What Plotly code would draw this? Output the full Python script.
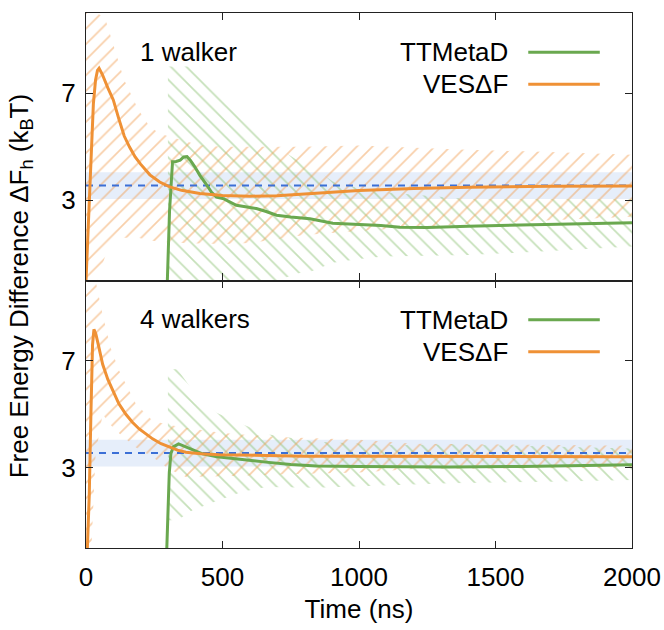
import plotly.graph_objects as go
from plotly.subplots import make_subplots

# ---------------- data ----------------
# reference value (blue dashed) and its uncertainty band
ref_t = [0, 2000]
ref_val = [3.55, 3.55]
ref_low = [3.05, 3.05]
ref_high = [4.05, 4.05]

# ---- panel 1 : 1 walker ----
ves1_t = [0, 10, 20, 27, 35, 42, 48, 60, 80, 100, 120, 140, 160, 180, 200, 234, 270, 307, 350,
          417, 500, 600, 700, 820, 1000, 1200, 1400, 1700, 2000]
ves1_v = [0, 2.5, 5.0, 6.6, 7.5, 7.85, 7.93, 7.7, 7.2, 6.75, 6.05, 5.4, 4.98, 4.62, 4.35, 3.95, 3.68,
          3.5, 3.37, 3.25, 3.18, 3.15, 3.17, 3.25, 3.36, 3.44, 3.49, 3.52, 3.53]
ves1_band_t = [0, 40, 70, 100, 140, 191, 234, 271, 307, 417, 500, 600, 800, 1000, 1370, 1700, 2000]
ves1_hi = [10, 10, 9.8, 8.8, 7.5, 6.4, 5.74, 5.5, 5.37, 5.06, 5.0, 5.0, 5.0, 5.05, 4.9, 4.8, 4.7]
ves1_lo = [0, 0, 0.9, 1.45, 1.6, 1.6, 1.5, 1.45, 1.42, 1.38, 1.36, 1.4, 1.7, 1.85, 2.1, 2.25, 2.38]

tt1_t = [298, 306, 317, 330, 345, 358, 370, 382, 398, 417, 440, 460, 478, 505, 551, 590, 624, 660,
         698, 750, 820, 904, 1000, 1080, 1150, 1250, 1400, 1600, 1800, 2000]
tt1_v = [0, 2.6, 4.44, 4.45, 4.5, 4.62, 4.63, 4.5, 4.26, 3.93, 3.6, 3.3, 3.12, 3.05, 2.81, 2.74, 2.69,
         2.58, 2.44, 2.37, 2.31, 2.14, 2.1, 2.06, 1.99, 1.98, 2.03, 2.07, 2.12, 2.16]
tt1_band_t = [300, 417, 460, 551, 637, 698, 783, 820, 904, 1000, 1090, 1400, 1700, 2000]
tt1_hi = [8.0, 8.0, 7.42, 6.2, 5.43, 5.0, 4.44, 4.3, 3.7, 3.45, 3.3, 3.05, 3.05, 3.05]
tt1_lo = [0, 0, 0, 0, 0, 0, 0.28, 0.32, 0.66, 0.8, 0.9, 0.95, 1.1, 1.27]

# ---- panel 2 : 4 walkers ----
ves4_t = [5, 12, 18, 24, 29, 36, 45, 61, 80, 98, 120, 146, 170, 195, 220, 244, 275, 305, 335, 366,
          420, 488, 560, 659, 800, 1000, 1300, 1600, 2000]
ves4_v = [0, 2.0, 5.0, 7.6, 8.17, 8.0, 7.6, 6.87, 6.3, 5.87, 5.4, 5.0, 4.7, 4.45, 4.25, 4.08, 3.9,
          3.77, 3.66, 3.58, 3.52, 3.49, 3.47, 3.45, 3.43, 3.43, 3.42, 3.41, 3.41]
ves4_band_t = [0, 20, 35, 61, 90, 122, 183, 244, 305, 366, 500, 700, 1000, 1200, 1600, 2000]
ves4_hi = [10, 10, 10, 8.72, 7.5, 6.62, 5.38, 4.76, 4.6, 4.5, 4.3, 4.15, 4.05, 3.9, 3.85, 3.82]
ves4_lo = [0, 0, 3.5, 5.0, 4.6, 4.28, 3.76, 3.4, 2.94, 2.65, 2.68, 2.75, 2.82, 2.95, 2.98, 3.0]

tt4_t = [296, 300, 305, 311, 320, 339, 366, 400, 427, 480, 549, 600, 659, 750, 844, 1000, 1088,
         1332, 1600, 1800, 2000]
tt4_v = [0, 1.5, 2.8, 3.53, 3.78, 3.89, 3.77, 3.62, 3.52, 3.41, 3.33, 3.26, 3.21, 3.12, 3.07, 3.05,
         3.04, 3.03, 3.05, 3.08, 3.11]
tt4_band_t = [300, 335, 390, 476, 573, 659, 844, 1146, 1332, 1700, 2000]
tt4_hi = [6.68, 6.68, 5.9, 5.07, 4.63, 4.26, 3.97, 3.84, 3.88, 3.8, 3.72]
tt4_lo = [1.04, 1.04, 1.41, 1.75, 2.1, 2.28, 2.25, 2.35, 2.42, 2.48, 2.54]

panel_labels = ["1 walker", "4 walkers"]
series_names = ["TTMetaD", "VES\u0394F"]

# ---------------- style ----------------
GREEN = "#6aa84f"
ORANGE = "#ef9135"
HATCH_GREEN = "#8cc273"
HATCH_ORANGE = "#f2a055"
BLUE = "#3b6fd6"
BAND = "#e6eefa"
FONT = "Liberation Sans, Arial, Helvetica, sans-serif"
FS = 26

fig = make_subplots(rows=2, cols=1, shared_xaxes=True, vertical_spacing=0)


def add_band(t, lo, hi, color, shape, row):
    fig.add_trace(go.Scatter(x=t, y=lo, mode="lines", line=dict(width=0, color=color),
                             showlegend=False, hoverinfo="skip"), row=row, col=1)
    fig.add_trace(go.Scatter(x=t, y=hi, mode="lines", line=dict(width=0, color=color),
                             fill="tonexty", fillcolor="rgba(0,0,0,0)",
                             fillpattern=dict(shape=shape, fgcolor=color, size=11, solidity=0.16),
                             showlegend=False, hoverinfo="skip"), row=row, col=1)


panels = [
    (ves1_t, ves1_v, ves1_band_t, ves1_lo, ves1_hi, tt1_t, tt1_v, tt1_band_t, tt1_lo, tt1_hi),
    (ves4_t, ves4_v, ves4_band_t, ves4_lo, ves4_hi, tt4_t, tt4_v, tt4_band_t, tt4_lo, tt4_hi),
]

for i, (vt, vv, vbt, vlo, vhi, tt, tv, tbt, tlo, thi) in enumerate(panels):
    row = i + 1
    # reference band
    fig.add_trace(go.Scatter(x=ref_t, y=ref_low, mode="lines", line=dict(width=0),
                             showlegend=False, hoverinfo="skip"), row=row, col=1)
    fig.add_trace(go.Scatter(x=ref_t, y=ref_high, mode="lines", line=dict(width=0),
                             fill="tonexty", fillcolor=BAND, showlegend=False, hoverinfo="skip"),
                  row=row, col=1)
    add_band(tbt, tlo, thi, HATCH_GREEN, "\\", row)
    add_band(vbt, vlo, vhi, HATCH_ORANGE, "/", row)
    fig.add_trace(go.Scatter(x=ref_t, y=ref_val, mode="lines",
                             line=dict(color=BLUE, width=2, dash="7px,6px"),
                             showlegend=False, hoverinfo="skip"), row=row, col=1)
    fig.add_trace(go.Scatter(x=tt, y=tv, mode="lines", name=series_names[0],
                             line=dict(color=GREEN, width=3), showlegend=False), row=row, col=1)
    fig.add_trace(go.Scatter(x=vt, y=vv, mode="lines", name=series_names[1],
                             line=dict(color=ORANGE, width=3), showlegend=False), row=row, col=1)

axis_common = dict(showline=True, linecolor="#222222", linewidth=1.3, mirror="ticks",
                   ticks="inside", ticklen=7, tickwidth=1, tickcolor="#222222",
                   showgrid=False, zeroline=False, automargin=False,
                   tickfont=dict(family=FONT, size=FS, color="black"))

fig.update_xaxes(range=[0, 2000], tickvals=[0, 500, 1000, 1500, 2000], **axis_common)
fig.update_xaxes(showticklabels=False, row=1, col=1)
fig.update_xaxes(title=dict(text="Time (ns)", font=dict(family=FONT, size=FS, color="black"),
                            standoff=8), ticklabelstandoff=6, row=2, col=1)
fig.update_yaxes(range=[0, 10], tickvals=[3, 7], ticklabelstandoff=4, **axis_common)

# panel labels and legends
for i, yref in enumerate(["y domain", "y2 domain"]):
    xref = "x domain" if i == 0 else "x2 domain"
    fig.add_annotation(text=panel_labels[i], xref=xref, yref=yref, x=0.095, y=0.856,
                       xanchor="left", yanchor="middle", showarrow=False,
                       font=dict(family=FONT, size=FS, color="black"))
    for j, (name, col) in enumerate(zip(series_names, [GREEN, ORANGE])):
        yy = [0.853, 0.734][j]
        fig.add_annotation(text=name, xref=xref, yref=yref, x=0.777, y=yy,
                           xanchor="right", yanchor="middle", showarrow=False,
                           font=dict(family=FONT, size=FS, color="black"))
        fig.add_shape(type="line", xref=xref, yref=yref, x0=0.81, x1=0.941, y0=yy, y1=yy,
                      line=dict(color=col, width=3))

fig.add_annotation(text="Free Energy Difference \u0394F<sub>h</sub> (k<sub>B</sub>T)",
                   xref="paper", yref="paper", x=-0.12, y=0.49, textangle=-90,
                   xanchor="center", yanchor="middle", showarrow=False,
                   font=dict(family=FONT, size=FS, color="black"))

fig.update_layout(width=664, height=630, margin=dict(l=86, r=32, t=13, b=82),
                  paper_bgcolor="white", plot_bgcolor="white", showlegend=False)

fig.write_html("out.html")
